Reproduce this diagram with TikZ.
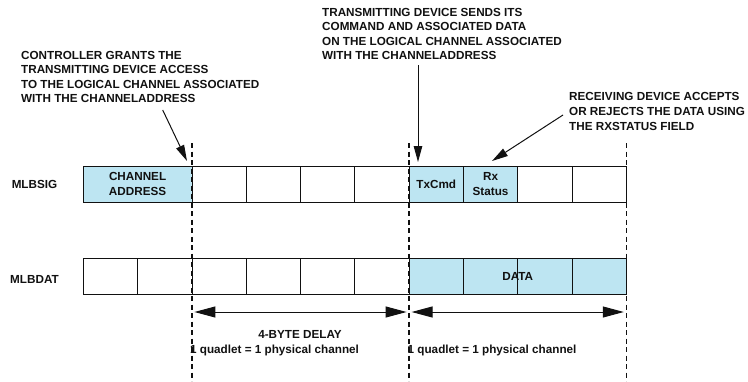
\documentclass[tikz,border=0pt]{standalone}
\usepackage{xcolor}
\usepackage{fontspec}
\setmainfont{Liberation Sans}
\usepackage{tikz}
\usetikzlibrary{arrows.meta, positioning, calc}
\definecolor{celeste}{HTML}{BDE5F2}
\definecolor{tinta}{HTML}{111111}

\begin{document}
\begin{tikzpicture}[x=1pt, y=-1pt, font=\fontsize{11.7pt}{14.6pt}\selectfont\bfseries, text=tinta]
    \tikzset{
      c/.style={rectangle, draw=tinta, line width=0.8pt, fill=white,
                minimum width=54.3pt, minimum height=36pt, inner sep=0pt,
                outer sep=0pt, align=center},
      ca/.style={c, fill=celeste},
      nota/.style={align=left, anchor=north west, inner sep=0pt},
      guia/.style={draw=tinta, line width=1.5pt, dash pattern=on 5pt off 3.5pt},
      f/.style={-{Triangle[length=16pt, width=8.5pt]}, line width=1pt, draw=tinta},
      cota/.style={{Triangle[length=21pt, width=11pt]}-{Triangle[length=21pt, width=11pt]},
                   line width=1pt, draw=tinta, shorten <=2.5pt, shorten >=2.5pt}
    }
    \useasboundingbox (0,0) rectangle (748,381);
    % MLBSIG
    \node[ca, minimum width=108.6pt, anchor=north west] (cad) at (83.3,166) {CHANNEL\\ADDRESS};
    \node[c, right=0pt of cad] (s2) {};
    \node[c, right=0pt of s2] (s3) {};
    \node[c, right=0pt of s3] (s4) {};
    \node[c, right=0pt of s4] (s5) {};
    \node[ca, right=0pt of s5] (tx) {TxCmd};
    \node[ca, right=0pt of tx] (rx) {Rx\\Status};
    \node[c, right=0pt of rx] (s8) {};
    \node[c, right=0pt of s8] (s9) {};
    % MLBDAT
    \node[c, anchor=north west] (d0) at (83.3,258) {};
    \node[c, right=0pt of d0] (d1) {};
    \node[c, right=0pt of d1] (d2) {};
    \node[c, right=0pt of d2] (d3) {};
    \node[c, right=0pt of d3] (d4) {};
    \node[c, right=0pt of d4] (d5) {};
    \node[ca, right=0pt of d5] (d6) {};
    \node[ca, right=0pt of d6] (d7) {};
    \node[ca, right=0pt of d7] (d8) {};
    \node[ca, right=0pt of d8] (d9) {};
    \node (datos) at (d7.east) {DATA};
    \node (sig) at (34.5,184) {MLBSIG};
    \node (dat) at (34.5,279) {MLBDAT};
    % cotas
    \node (retardo) at (300,334) {4-BYTE DELAY};
    \node[anchor=base west, inner sep=0pt] (q1) at (190,353) {1 quadlet = 1 physical channel};
    \node[anchor=base west, inner sep=0pt] (q2) at (407.5,353) {1 quadlet = 1 physical channel};
    \coordinate (g1) at (s2.north west |- 0,143);
    \coordinate (g1b) at (s2.north west |- 0,381);
    \coordinate (g2) at (tx.north west |- 0,143);
    \coordinate (g2b) at (tx.north west |- 0,381);
    \coordinate (g3) at (s9.north east |- 0,143);
    \coordinate (g3b) at (s9.north east |- 0,381);
    \draw[guia] (g1) -- (g1b);
    \draw[guia] (g2) -- (g2b);
    \draw[guia] (g3) -- (g3b);
    \coordinate (m1) at (g1 |- 0,312);
    \coordinate (m2) at (g2 |- 0,312);
    \coordinate (m3) at (g3 |- 0,312);
    \draw[cota] (m1) -- (m2);
    \draw[cota] (m2) -- (m3);
    % notas
    \node[nota] (n1) at (21,50.8) {CONTROLLER GRANTS THE\\TRANSMITTING DEVICE ACCESS\\TO THE LOGICAL CHANNEL ASSOCIATED\\WITH THE CHANNELADDRESS};
    \node[nota] (n2) at (322,7.8) {TRANSMITTING DEVICE SENDS ITS\\COMMAND AND ASSOCIATED DATA\\ON THE LOGICAL CHANNEL ASSOCIATED\\WITH THE CHANNELADDRESS};
    \node[nota] (n3) at (569,92.5) {RECEIVING DEVICE ACCEPTS\\OR REJECTS THE DATA USING\\THE RXSTATUS FIELD};
    \coordinate (p1) at (162.7,110);
    \coordinate (t1) at (187,161);
    \coordinate (p2) at (418,65);
    \coordinate (t2) at (418,162);
    \coordinate (p3) at (563,115);
    \coordinate (t3) at (492,161);
    \draw[f] (p1) -- (t1);
    \draw[f] (p2) -- (t2);
    \draw[f] (p3) -- (t3);
  \end{tikzpicture}
\end{document}
